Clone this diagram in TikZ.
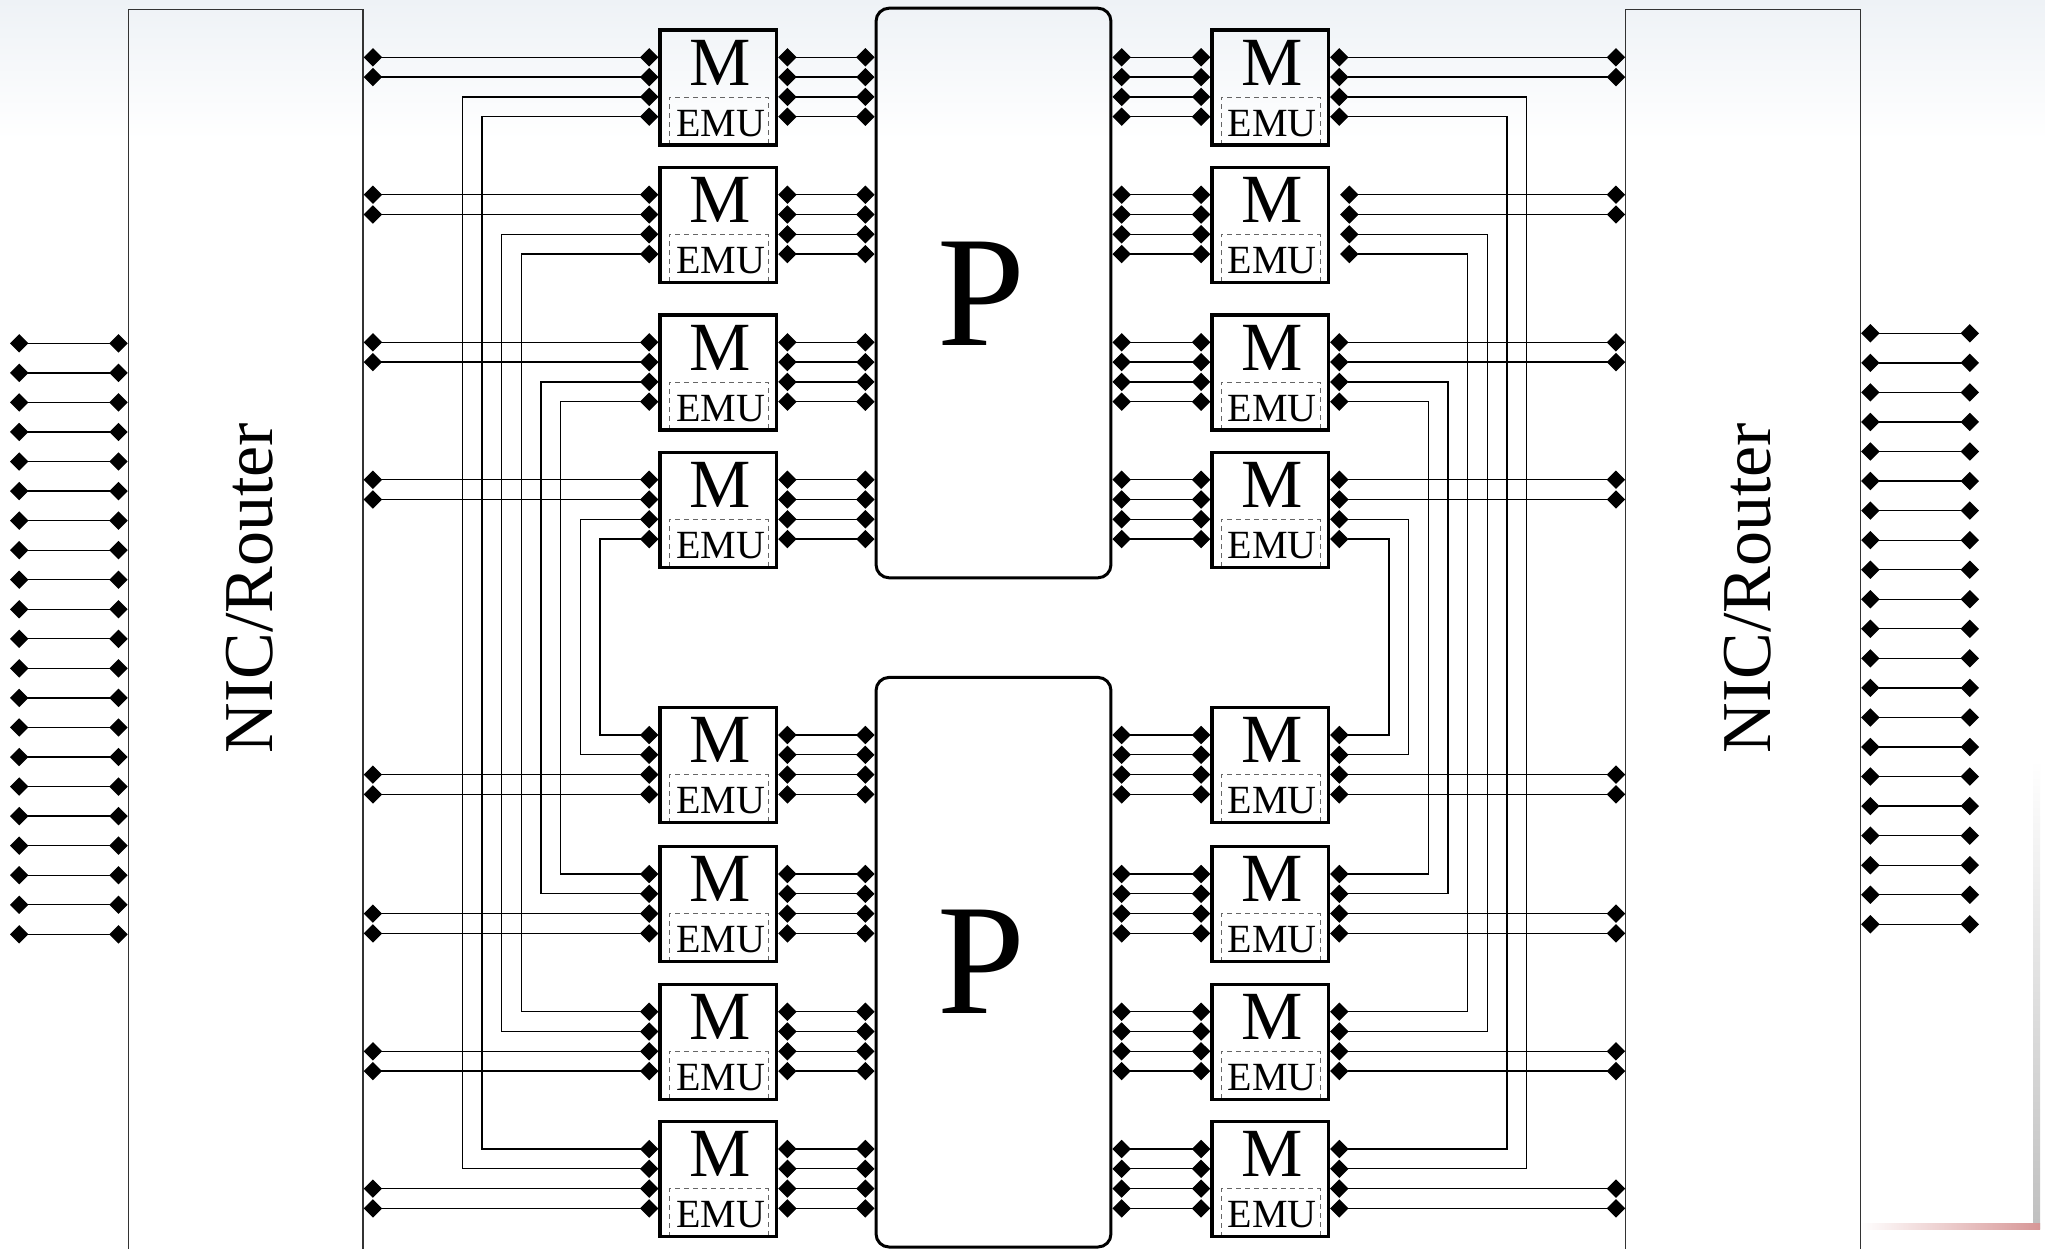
\documentclass[tikz,border=0pt]{standalone}
\usepackage{fontspec}
\setmainfont{Liberation Serif}
\usetikzlibrary{arrows.meta,calc}
\definecolor{topbg}{RGB}{238,242,246}
\definecolor{shadowred}{RGB}{215,150,150}
\begin{document}
\begin{tikzpicture}[x=0.5pt,y=-0.5pt,
  dl/.style={line width=0.65pt,{Diamond[length=9.2pt,width=9.2pt]}-{Diamond[length=9.2pt,width=9.2pt]}},
  mbox/.style={draw,line width=1.6pt,minimum width=58.3pt,minimum height=57.5pt,inner sep=0pt},
  pbox/.style={draw,line width=1.5pt,rounded corners=6.5pt,minimum width=117.45pt,minimum height=284.8pt,inner sep=0pt},
  nicbox/.style={draw=black!80,line width=0.65pt,minimum width=117.35pt,minimum height=655.2pt,inner sep=0pt},
  emubox/.style={draw=black!60,dash pattern=on 2.5pt off 2pt,line width=0.5pt},
  mtext/.style={inner sep=0pt,font=\fontsize{34.5}{36}\selectfont},
  etext/.style={inner sep=0pt,font=\fontsize{20}{22}\selectfont},
  ptext/.style={inner sep=0pt,font=\fontsize{79}{80}\selectfont},
  nictext/.style={inner sep=0pt,font=\fontsize{35}{36}\selectfont,rotate=90}]
\useasboundingbox (0,0) rectangle (2045,1248);
\clip (0,0) rectangle (2045,1248);
\fill[white] (0,0) rectangle (2045,1248);
\shade[top color=topbg,bottom color=white] (0,0) rectangle (2045,140);
\shade[top color=white,bottom color=black!25] (2033,760) rectangle (2040,1228);
\shade[left color=white,right color=shadowred] (1860,1223) rectangle (2040,1229);

% NIC boxes
\node[nicbox] (NICL) at (245.7,664.8) {};
\node[nicbox] (NICR) at (1743.15,664.8) {};
\node[nictext] (NICL-t) at (250,588) {NIC/Router};
\node[nictext] (NICR-t) at (1748,588) {NIC/Router};

% processors
\node[pbox] (P1) at (993.5,293) {};
\node[pbox] (P2) at (993.5,962.2) {};
\node[ptext] (P1-t) at (981,293.5) {P};
\node[ptext] (P2-t) at (981,962) {P};

% memory boxes
\foreach \i/\cy/\sh in {1/87.5/0,2/224.9/10,3/372.5/0,4/509.9/0,5/765.2/0,6/904.2/0,7/1041.9/0,8/1179.2/0}{
  \draw[emubox] (669.3,\cy+57.5) -- (669.3,\cy+9.6) -- (768.3,\cy+9.6) -- (768.3,\cy+57.5);
  \draw[emubox] (1221,\cy+57.5) -- (1221,\cy+9.6) -- (1320,\cy+9.6) -- (1320,\cy+57.5);
  \node[mbox] (ML\i) at (718.3,\cy) {};
  \node[mbox] (MR\i) at (1270.2,\cy) {};
  \node[mtext] (ML\i-m) at (719.8,\cy-25) {M};
  \node[mtext] (MR\i-m) at (1271.7,\cy-25) {M};
  \node[etext] (ML\i-e) at (720.5,\cy+35.8) {EMU};
  \node[etext] (MR\i-e) at (1272.4,\cy+35.8) {EMU};
  \foreach \k in {0,...,3}{
    \coordinate (ML\i-w\k) at ($(ML\i.west)+(0,{-30.2+19.8*\k})$);
    \coordinate (ML\i-e\k) at ($(ML\i.east)+(0,{-30.2+19.8*\k})$);
    \coordinate (MR\i-w\k) at ($(MR\i.west)+(0,{-30.2+19.8*\k})$);
    \coordinate (MR\i-e\k) at ($(MR\i.east)+(\sh,{-30.2+19.8*\k})$);
  }
}

% memory to processor links
\foreach \i/\p in {1/P1,2/P1,3/P1,4/P1,5/P2,6/P2,7/P2,8/P2}{
  \foreach \k in {0,...,3}{
    \draw[dl] (ML\i-e\k) -- (ML\i-e\k -| \p.west);
    \draw[dl] (MR\i-w\k -| \p.east) -- (MR\i-w\k);
  }
}

% memory to NIC links
\foreach \i/\ka/\kb in {1/0/1,2/0/1,3/0/1,4/0/1,5/2/3,6/2/3,7/2/3,8/2/3}{
  \foreach \k in {\ka,\kb}{
    \draw[dl] (ML\i-w\k -| NICL.east) -- (ML\i-w\k);
    \draw[dl] (MR\i-e\k) -- (MR\i-e\k -| NICR.west);
  }
}

% memory to memory buses
\foreach \i in {1,...,4}{
  \pgfmathtruncatemacro\j{9-\i}
  \pgfmathsetmacro\xa{462.5+39.28*(\i-1)}
  \pgfmathsetmacro\xb{\xa+19.64}
  \pgfmathsetmacro\xc{1526.6-39.28*(\i-1)}
  \pgfmathsetmacro\xd{\xc-19.64}
  \coordinate (BLa\i) at (\xa,0);
  \coordinate (BLb\i) at (\xb,0);
  \coordinate (BRa\i) at (\xc,0);
  \coordinate (BRb\i) at (\xd,0);
  \draw[dl] (ML\i-w2) -| (ML\j-w1 -| BLa\i) -- (ML\j-w1);
  \draw[dl] (ML\i-w3) -| (ML\j-w0 -| BLb\i) -- (ML\j-w0);
  \draw[dl] (MR\i-e2) -| (MR\j-e1 -| BRa\i) -- (MR\j-e1);
  \draw[dl] (MR\i-e3) -| (MR\j-e0 -| BRb\i) -- (MR\j-e0);
}

% external links
\foreach \n in {0,...,20}{
  \coordinate (XL\n) at (10,{343.3+29.55*\n});
  \coordinate (XR\n) at (1979,{333.3+29.55*\n});
  \draw[dl] (XL\n) -- (XL\n -| NICL.west);
  \draw[dl] (XR\n -| NICR.east) -- (XR\n);
}
\end{tikzpicture}
\end{document}
